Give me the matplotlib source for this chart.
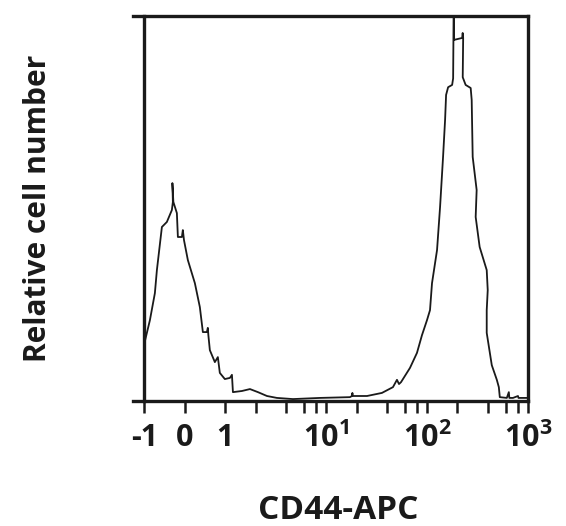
"""
CD44-APC flow cytometry histogram (biexponential-style x axis).
"""

import matplotlib
matplotlib.use("Agg")
import matplotlib.pyplot as plt

# histogram outline (x in CD44-APC units, y relative count, 100 = top of frame)
cd44 = [
    -1.0, -0.866, -0.743, -0.693, -0.569, -0.446, -0.322, -0.297, -0.309, -0.285,
    -0.198, -0.173, -0.074, -0.050, -0.022, 0.074, 0.248, 0.371, 0.446, 0.545,
    0.569, 0.582, 0.619, 0.743, 0.817, 0.866, 0.99, 1.113, 1.165, 1.192,
    1.464, 1.757, 2.11, 2.59, 3.25, 4.69, 8.68, 17.2, 18.0, 18.2,
    18.4, 25.4, 35.7, 45.9, 50.3, 52.7, 55.2, 67.7, 79.4, 89.0,
    99.8, 106.9, 111.9, 125.5, 134.5, 144.0, 150.8, 154.3, 161.6, 177.1,
    181.2, 182.4, 183.7, 185.4, 222.6, 225.3, 227.8, 225.5, 241.0, 270.4,
    276.7, 283.1, 309.9, 303.0, 331.9, 389.9, 399.0, 389.9, 389.9, 437.7,
    491.0, 514.0, 525.5, 616.8, 645.7, 653.0, 710.0, 796.0, 805.0, 977.0,
]
counts = [
    15.1, 21.0, 28.0, 34.0, 45.2, 46.5, 49.6, 51.7, 56.6, 51.7,
    48.8, 42.6, 42.6, 44.4, 41.8, 36.6, 30.6, 24.4, 17.9, 17.9,
    19.0, 17.1, 13.2, 10.1, 11.4, 7.3, 5.7, 6.0, 6.8, 2.3,
    2.6, 3.1, 2.3, 1.3, 0.8, 0.5, 0.8, 1.0, 1.3, 2.1,
    1.3, 1.3, 2.1, 3.6, 5.5, 4.4, 4.9, 8.6, 12.5, 17.1,
    21.0, 23.6, 30.6, 39.2, 50.4, 63.4, 73.0, 79.5, 81.5, 82.1,
    83.8, 93.8, 105.0, 93.8, 94.3, 95.6, 94.3, 84.1, 82.1, 81.3,
    78.2, 63.4, 54.8, 47.8, 40.0, 34.0, 28.8, 23.6, 17.7, 9.3,
    5.5, 3.6, 1.0, 0.8, 2.3, 0.8, 0.8, 1.3, 0.8, 0.8,
]

major_ticks = [-1, 0, 1, 10, 100, 1000]
major_labels = ["-1", "0", "1", r"$10^{1}$", r"$10^{2}$", r"$10^{3}$"]
minor_ticks = [2, 4, 6, 8, 20, 40, 60, 80, 200, 400, 600, 800]

plt.rcParams["font.family"] = ["Open Sans", "DejaVu Sans"]
plt.rcParams["font.weight"] = "bold"
plt.rcParams["mathtext.fontset"] = "custom"
plt.rcParams["mathtext.rm"] = "Open Sans:bold"
plt.rcParams["mathtext.it"] = "Open Sans:bold"
plt.rcParams["mathtext.bf"] = "Open Sans:bold"

ink = "#1a1a1a"

fig = plt.figure(figsize=(5.66, 5.26), dpi=100)
ax = fig.add_axes([133 / 566, 125 / 526, 395 / 566, 385 / 526])

ax.plot(cd44, counts, color=ink, linewidth=1.3)

ax.set_xscale("symlog", linthresh=1, linscale=0.36)
ax.set_xlim(-1.3, 1000)
ax.set_ylim(0, 100)

for side in ["top", "bottom", "left", "right"]:
    ax.spines[side].set_linewidth(2.4)
    ax.spines[side].set_color(ink)
ax.spines["left"].set_position(("data", -1))

ax.set_xticks(major_ticks)
ax.set_xticklabels(major_labels)
ax.set_xticks(minor_ticks, minor=True)
ax.tick_params(axis="x", which="both", direction="out", length=8.5, width=1.8,
               color=ink)
ax.tick_params(axis="x", which="major", labelsize=22, pad=7, labelcolor=ink)
ax.set_yticks([])

fig.text(38 / 566, 0.5 + (263 - 208) / 526, "Relative cell number", rotation=90,
         ha="center", va="center", fontsize=21.5, color=ink)
fig.text(338 / 566, 1 - 519 / 526, "CD44-APC", ha="center", va="baseline",
         fontsize=24, color=ink)

fig.savefig("out.png", dpi=100)
plt.close(fig)
